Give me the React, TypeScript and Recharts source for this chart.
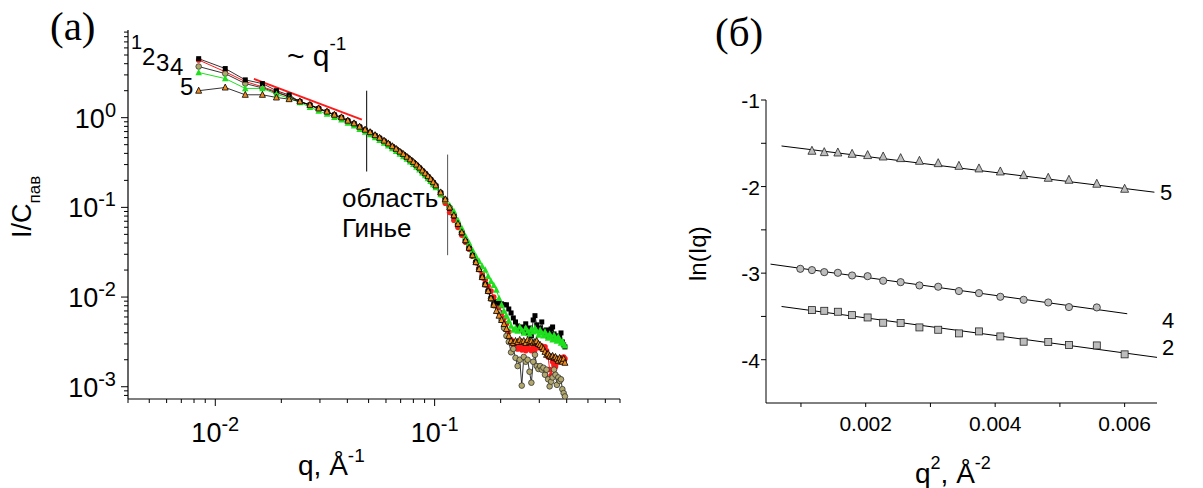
import React from "react";
import { LineChart, Line, XAxis, YAxis, ReferenceLine } from "recharts";

const SANS = "'Liberation Sans', Arial, Helvetica, sans-serif";
const SERIF = "'Liberation Serif', 'Times New Roman', serif";

// ---------- panel (a): I/C vs q (log-log) ----------
const qValues = [
  0.0084, 0.0111, 0.0137, 0.0164, 0.019, 0.0217, 0.0243, 0.027, 0.0296, 0.0323,
  0.0349, 0.0376, 0.0402, 0.0429, 0.0455, 0.0482, 0.0508, 0.0535, 0.0561, 0.0588,
  0.0614, 0.0641, 0.0667, 0.0694, 0.072, 0.0747, 0.0773, 0.08, 0.0826, 0.0853,
  0.0879, 0.0906, 0.0932, 0.0959, 0.0985,
  0.1012, 0.1065, 0.1118, 0.1171, 0.1224, 0.1277, 0.133, 0.1383, 0.1436, 0.1489,
  0.1542, 0.1595, 0.1648, 0.1701, 0.1754, 0.1807, 0.186, 0.1913, 0.1966, 0.2019,
  0.2072, 0.2125, 0.2178, 0.2231, 0.2284, 0.2337, 0.239, 0.2443, 0.2496, 0.2549,
  0.2602, 0.2655, 0.2708, 0.2761, 0.2814, 0.2867, 0.292, 0.2973, 0.3026, 0.3079,
  0.3132, 0.3185, 0.3238, 0.3291, 0.3344, 0.3397, 0.345, 0.3503, 0.3556, 0.3609,
  0.3662, 0.3715, 0.3768, 0.3821, 0.3874, 0.3927,
];

// black squares
const curve1 = [
  4.55, 3.53, 2.64, 2.4, 2.0, 1.79,
  1.51, 1.38, 1.26, 1.16, 1.07, 1.0, 0.92, 0.855, 0.785, 0.725,
  0.68, 0.628, 0.588, 0.546, 0.508, 0.473, 0.442, 0.411, 0.386, 0.36,
  0.337, 0.315, 0.294, 0.273, 0.253, 0.236, 0.219, 0.203, 0.188,
  0.172, 0.144, 0.12, 0.098, 0.08, 0.0645, 0.052, 0.0425, 0.0352, 0.029,
  0.0243, 0.0203, 0.0166, 0.0138, 0.0116, 0.0097, 0.0083, 0.0088, 0.0086, 0.0084,
  0.0082, 0.0082, 0.00736, 0.00665, 0.00585, 0.00528, 0.00476, 0.0043, 0.00464, 0.00409,
  0.00503, 0.00398, 0.00452, 0.00369, 0.00555, 0.0062, 0.0049, 0.0043, 0.00452, 0.00528,
  0.00419, 0.00378, 0.0043, 0.0036, 0.00398, 0.00441, 0.00464, 0.00388, 0.0035, 0.00369,
  0.00333, 0.0036, 0.00398, 0.00316, 0.00293, 0.00278,
];

// red circles
const curve2 = [
  4.4, 3.25, 2.53, 2.21, 1.95, 1.72,
  1.52, 1.39, 1.27, 1.17, 1.08, 1.0, 0.925, 0.86, 0.79, 0.73,
  0.685, 0.634, 0.592, 0.55, 0.512, 0.477, 0.446, 0.415, 0.389, 0.364,
  0.34, 0.318, 0.297, 0.276, 0.256, 0.238, 0.221, 0.205, 0.19,
  0.171, 0.139, 0.111, 0.088, 0.0719, 0.0599, 0.049, 0.0408, 0.0341, 0.0285,
  0.0245, 0.0211, 0.0181, 0.0155, 0.0133, 0.0117, 0.01, 0.0088, 0.0078, 0.00665,
  0.00585, 0.00503, 0.00409, 0.00333, 0.00293, 0.00278, 0.00264, 0.00284, 0.00258, 0.00271,
  0.00252, 0.00278, 0.00264, 0.00252, 0.00271, 0.00258, 0.00278, 0.00286, 0.00271, 0.00284,
  0.00264, 0.00278, 0.00252, 0.00215, 0.00155, 0.00133, 0.0019, 0.00175, 0.00167, 0.00185,
  0.002, 0.0019, 0.0021, 0.002, 0.00215, 0.00205,
];

// green triangles
const curve3 = [
  3.19, 2.73, 2.12, 2.12, 1.83, 1.65, 1.48,
  1.31, 1.19, 1.1, 1.01, 0.95, 0.87, 0.81, 0.745, 0.69, 0.648,
  0.6, 0.561, 0.522, 0.486, 0.452, 0.423, 0.394, 0.369, 0.345, 0.322,
  0.302, 0.282, 0.262, 0.243, 0.226, 0.21, 0.195, 0.18,
  0.167, 0.139, 0.12, 0.105, 0.0905, 0.0719, 0.0586, 0.0476, 0.04, 0.0333,
  0.0285, 0.0251, 0.0221, 0.02, 0.0171, 0.015, 0.0135, 0.012, 0.0097, 0.0082,
  0.007, 0.0062, 0.00543, 0.00476, 0.0043, 0.00452, 0.00419, 0.00464, 0.0043, 0.00398,
  0.00452, 0.00419, 0.00388, 0.00441, 0.00409, 0.00452, 0.00419, 0.00378, 0.0043, 0.00398,
  0.00369, 0.00409, 0.00378, 0.0035, 0.00388, 0.0036, 0.00333, 0.00378, 0.0035, 0.00324,
  0.0036, 0.00333, 0.00308, 0.00324, 0.003, 0.00286,
];

// olive circles
const curve4 = [
  3.72, 3.1, 2.4, 2.15, 1.9, 1.72,
  1.5, 1.38, 1.26, 1.16, 1.07, 1.0, 0.92, 0.858, 0.788, 0.73,
  0.683, 0.632, 0.59, 0.548, 0.51, 0.475, 0.444, 0.413, 0.388, 0.362,
  0.339, 0.317, 0.296, 0.275, 0.255, 0.237, 0.22, 0.204, 0.189,
  0.175, 0.146, 0.122, 0.099, 0.081, 0.065, 0.0525, 0.0428, 0.0353, 0.0292,
  0.0244, 0.0204, 0.0166, 0.0138, 0.0116, 0.0096, 0.0081, 0.0086, 0.0068, 0.00555,
  0.00452, 0.00369, 0.00316, 0.00242, 0.00264, 0.0021, 0.0017, 0.002, 0.00103, 0.00215,
  0.0019, 0.002, 0.00147, 0.00111, 0.0019, 0.00227, 0.0017, 0.00158, 0.0017, 0.00155,
  0.00163, 0.00136, 0.00155, 0.00121, 0.00101, 0.00114, 0.00127, 0.00155, 0.00136, 0.00105,
  0.00127, 0.00116, 0.00121, 0.00094, 0.00085, 0.00078,
];

// orange triangles
const curve5 = [
  2.0, 2.17, 1.8, 1.8, 1.68, 1.61, 1.52, 1.39, 1.27, 1.17,
  1.08, 1.01, 0.927, 0.865, 0.794, 0.735, 0.69,
  0.639, 0.597, 0.555, 0.517, 0.481, 0.45, 0.419, 0.393, 0.367,
  0.343, 0.321, 0.3, 0.278, 0.258, 0.24, 0.223, 0.207, 0.191,
  0.176, 0.147, 0.123, 0.1, 0.0815, 0.0656, 0.0528, 0.043, 0.0355, 0.0293,
  0.0245, 0.0205, 0.0167, 0.0139, 0.0117, 0.0097, 0.0082, 0.007, 0.0062, 0.00555,
  0.005, 0.00441, 0.00369, 0.00324, 0.00308, 0.00324, 0.00316, 0.00333, 0.00316, 0.00324,
  0.00308, 0.00333, 0.00316, 0.00324, 0.00308, 0.00316, 0.00324, 0.003, 0.00293, 0.00278,
  0.00264, 0.00245, 0.00227, 0.00233, 0.00221, 0.00215, 0.00221, 0.0021, 0.00215, 0.00205,
  0.00195, 0.0021, 0.002, 0.0019, 0.00205, 0.00185,
];

const xTicksA = [
  0.004, 0.005, 0.006, 0.007, 0.008, 0.009, 0.01,
  0.02, 0.03, 0.04, 0.05, 0.06, 0.07, 0.08, 0.09, 0.1,
  0.2, 0.3, 0.4, 0.5, 0.6, 0.7,
];
const yTicksA = [
  0.0008, 0.0009, 0.001,
  0.002, 0.003, 0.004, 0.005, 0.006, 0.007, 0.008, 0.009, 0.01,
  0.02, 0.03, 0.04, 0.05, 0.06, 0.07, 0.08, 0.09, 0.1,
  0.2, 0.3, 0.4, 0.5, 0.6, 0.7, 0.8, 0.9, 1,
  2, 3, 4, 5, 6, 7, 8, 9,
];

// vertical marks of the Guinier region and the ~q^-1 guide
const guideQ = [0.049, 0.1146];
const guideTop = [2.0, 0.388];
const guideBottom = [0.251, 0.0293];
const slopeQ = [0.015, 0.0466];
const slopeI = [2.71, 0.95];

// ---------- panel (б): ln(Iq) vs q^2 ----------
const q2Tri = [0.00117, 0.00136, 0.00157, 0.00179, 0.00203, 0.00227, 0.00254, 0.00283, 0.00312, 0.00344, 0.00375, 0.00408, 0.00444, 0.00482, 0.00514, 0.00557, 0.006];
const lnTri = [-1.588, -1.604, -1.608, -1.623, -1.638, -1.654, -1.673, -1.704, -1.731, -1.762, -1.792, -1.827, -1.869, -1.9, -1.923, -1.969, -2.027];
const q2Circ = [0.00099, 0.00117, 0.00136, 0.00157, 0.00179, 0.00203, 0.00227, 0.00254, 0.00283, 0.00312, 0.00344, 0.00375, 0.00408, 0.00444, 0.00482, 0.00514, 0.00557];
const lnCirc = [-2.95, -2.965, -2.988, -2.996, -3.027, -3.035, -3.088, -3.104, -3.142, -3.157, -3.207, -3.231, -3.273, -3.308, -3.339, -3.392, -3.396];
const q2Sq = [0.00117, 0.00136, 0.00157, 0.00179, 0.00203, 0.00227, 0.00254, 0.00283, 0.00312, 0.00344, 0.00375, 0.00408, 0.00444, 0.00482, 0.00514, 0.00557, 0.006];
const lnSq = [-3.427, -3.435, -3.446, -3.485, -3.512, -3.573, -3.577, -3.627, -3.654, -3.696, -3.673, -3.731, -3.792, -3.796, -3.831, -3.835, -3.938];

const fitX5 = [0.0007, 0.00646];
const fitY5 = [-1.531, -2.065];
const fitX4 = [0.00053, 0.00604];
const fitY4 = [-2.896, -3.469];
const fitX2 = [0.0007, 0.0065];
const fitY2 = [-3.385, -3.973];

const xTicksB = [0.001, 0.002, 0.003, 0.004, 0.005, 0.006];
const xLabelsB = [0.002, 0.004, 0.006];
const yTicksB = [-4, -3.5, -3, -2.5, -2, -1.5, -1];

// ---------- data tables ----------
const dataA = qValues.map((q, i) => ({
  q,
  c1: curve1[i],
  c2: curve2[i],
  c3: curve3[i],
  c4: curve4[i],
  c5: curve5[i],
}));
const pairs = (xs: number[], ys: number[]) => xs.map((x, i) => ({ x, y: ys[i] }));
const triData = pairs(q2Tri, lnTri);
const circData = pairs(q2Circ, lnCirc);
const sqData = pairs(q2Sq, lnSq);

// ---------- markers ----------
const squareDot = (fill: string, size: number, stroke = "none") => (p: any) => {
  if (p.cx == null || p.cy == null) return <g key={`s${p.index}`} />;
  return (
    <rect key={`s${p.index}`} x={p.cx - size / 2} y={p.cy - size / 2} width={size} height={size}
      fill={fill} stroke={stroke} strokeWidth={0.8} />
  );
};
const circleDot = (fill: string, r: number, stroke = "none") => (p: any) => {
  if (p.cx == null || p.cy == null) return <g key={`c${p.index}`} />;
  return <circle key={`c${p.index}`} cx={p.cx} cy={p.cy} r={r} fill={fill} stroke={stroke} strokeWidth={0.8} />;
};
const triangleDot = (fill: string, s: number, stroke = "none") => (p: any) => {
  if (p.cx == null || p.cy == null) return <g key={`t${p.index}`} />;
  const { cx, cy } = p;
  const pts = `${cx},${cy - s * 0.58} ${cx - s / 2},${cy + s * 0.42} ${cx + s / 2},${cy + s * 0.42}`;
  return <polygon key={`t${p.index}`} points={pts} fill={fill} stroke={stroke} strokeWidth={0.8} />;
};

// ---------- ticks ----------
const isDecade = (v: number) => Math.abs(Math.log10(v) - Math.round(Math.log10(v))) < 1e-9;

function LogTickX(props: any) {
  const { x, y, payload } = props;
  const v = payload.value;
  const major = isDecade(v);
  return (
    <g>
      <line x1={x} x2={x} y1={y} y2={y + (major ? 7 : 4)} stroke="#000" strokeWidth={1} />
      {major && (
        <text x={x} y={y + 43} textAnchor="middle" fontSize={27} fontFamily={SANS} fill="#000">
          10<tspan dy={-11} fontSize={20}>{`${Math.round(Math.log10(v))}`}</tspan>
        </text>
      )}
    </g>
  );
}

function LogTickY(props: any) {
  const { x, y, payload } = props;
  const v = payload.value;
  const major = isDecade(v);
  return (
    <g>
      <line x1={x - (major ? 7 : 4)} x2={x} y1={y} y2={y} stroke="#000" strokeWidth={1} />
      {major && (
        <text x={x - 12} y={y + 10} textAnchor="end" fontSize={27} fontFamily={SANS} fill="#000">
          10<tspan dy={-11} fontSize={20}>{`${Math.round(Math.log10(v))}`}</tspan>
        </text>
      )}
    </g>
  );
}

function LinTickX(props: any) {
  const { x, y, payload } = props;
  const v = payload.value;
  const labelled = xLabelsB.some((l) => Math.abs(l - v) < 1e-9);
  return (
    <g>
      <line x1={x} x2={x} y1={y} y2={y + 4} stroke="#000" strokeWidth={1} />
      {labelled && (
        <text x={x} y={y + 28} textAnchor="middle" fontSize={21} fontFamily={SANS} fill="#000">
          {v.toFixed(3)}
        </text>
      )}
    </g>
  );
}

function LinTickY(props: any) {
  const { x, y, payload } = props;
  const v = payload.value;
  const labelled = Number.isInteger(v);
  return (
    <g>
      <line x1={x - 5} x2={x} y1={y} y2={y} stroke="#000" strokeWidth={1} />
      {labelled && (
        <text x={x - 6} y={y + 8} textAnchor="end" fontSize={21} fontFamily={SANS} fill="#000">
          {`${v}`}
        </text>
      )}
    </g>
  );
}

function PanelA() {
  return (
    <LineChart width={640} height={488} data={dataA} margin={{ top: 30, right: 20, bottom: 0, left: 0 }}>
      <XAxis dataKey="q" type="number" scale="log" domain={[0.004, 0.7]} allowDataOverflow
        ticks={xTicksA} interval={0} tick={<LogTickX />} tickLine={false} tickSize={0} tickMargin={0}
        height={89} axisLine={{ stroke: "#000", strokeWidth: 1.2 }} />
      <YAxis type="number" scale="log" domain={[0.00073, 9.5]} allowDataOverflow
        ticks={yTicksA} interval={0} tick={<LogTickY />} tickLine={false} tickSize={0} tickMargin={0}
        width={128} axisLine={{ stroke: "#000", strokeWidth: 1.2 }} />
      <Line dataKey="c2" stroke="#ff1a1a" strokeWidth={1} dot={circleDot("#ff1a1a", 2.8)} activeDot={false} isAnimationActive={false} />
      <Line dataKey="c4" stroke="#000" strokeWidth={0.8} dot={circleDot("#b3a86c", 2.8, "#333")} activeDot={false} isAnimationActive={false} />
      <Line dataKey="c1" stroke="#000" strokeWidth={0.8} dot={squareDot("#000", 5)} activeDot={false} isAnimationActive={false} />
      <Line dataKey="c3" stroke="#1ee01e" strokeWidth={1} dot={triangleDot("#1ee01e", 6.5)} activeDot={false} isAnimationActive={false} />
      <Line dataKey="c5" stroke="#000" strokeWidth={0.8} dot={triangleDot("#f08a1e", 6, "#000")} activeDot={false} isAnimationActive={false} />
      <ReferenceLine segment={[{ x: guideQ[0], y: guideTop[0] }, { x: guideQ[0], y: guideBottom[0] }]} stroke="#000" strokeWidth={1} />
      <ReferenceLine segment={[{ x: guideQ[1], y: guideTop[1] }, { x: guideQ[1], y: guideBottom[1] }]} stroke="#555" strokeWidth={1} />
      <ReferenceLine segment={[{ x: slopeQ[0], y: slopeI[0] }, { x: slopeQ[1], y: slopeI[1] }]} stroke="#ff1a1a" strokeWidth={2} />
    </LineChart>
  );
}

function PanelB() {
  return (
    <LineChart width={563} height={488} margin={{ top: 100, right: 46, bottom: 0, left: 0 }}>
      <XAxis dataKey="x" type="number" domain={[0.00046, 0.0065]} allowDataOverflow
        ticks={xTicksB} interval={0} tick={<LinTickX />} tickLine={false} tickSize={0} tickMargin={0}
        height={85} axisLine={{ stroke: "#000", strokeWidth: 1 }} />
      <YAxis type="number" domain={[-4.5, -1]} allowDataOverflow
        ticks={yTicksB} interval={0} tick={<LinTickY />} tickLine={false} tickSize={0} tickMargin={0}
        width={126} axisLine={{ stroke: "#000", strokeWidth: 1 }} />
      <Line data={pairs(fitX5, fitY5)} dataKey="y" stroke="#000" strokeWidth={1} dot={false} activeDot={false} isAnimationActive={false} />
      <Line data={pairs(fitX4, fitY4)} dataKey="y" stroke="#000" strokeWidth={1} dot={false} activeDot={false} isAnimationActive={false} />
      <Line data={pairs(fitX2, fitY2)} dataKey="y" stroke="#000" strokeWidth={1} dot={false} activeDot={false} isAnimationActive={false} />
      <Line data={triData} dataKey="y" stroke="none" dot={triangleDot("#bdbdbd", 8, "#222")} activeDot={false} isAnimationActive={false} />
      <Line data={circData} dataKey="y" stroke="none" dot={circleDot("#bdbdbd", 3.6, "#222")} activeDot={false} isAnimationActive={false} />
      <Line data={sqData} dataKey="y" stroke="none" dot={squareDot("#bdbdbd", 7, "#222")} activeDot={false} isAnimationActive={false} />
    </LineChart>
  );
}

function Labels() {
  const t = { fontFamily: SANS, fill: "#000" } as const;
  return (
    <svg width={1203} height={488} style={{ position: "absolute", left: 0, top: 0, pointerEvents: "none" }}>
      <text x={50} y={40} fontFamily={SERIF} fontSize={41}>(a)</text>
      <text x={715} y={46} fontFamily={SERIF} fontSize={41}>(б)</text>

      <text {...t} fontSize={27} transform="translate(31,238) rotate(-90)">
        I/C<tspan fontSize={17} dy={9}>пав</tspan>
      </text>
      <text {...t} fontSize={28} x={298} y={475}>
        q, Å<tspan fontSize={19} dy={-13}>-1</tspan>
      </text>

      <text {...t} fontSize={20} x={131} y={49}>1</text>
      <text {...t} fontSize={24} x={142} y={65}>2</text>
      <text {...t} fontSize={24} x={156} y={71}>3</text>
      <text {...t} fontSize={24} x={170} y={75}>4</text>
      <text {...t} fontSize={24} x={180} y={95}>5</text>

      <text {...t} fontSize={30} x={287} y={66}>
        ~ q<tspan fontSize={19} dy={-16}>-1</tspan>
      </text>
      <text {...t} fontSize={26} x={342} y={207}>область</text>
      <text {...t} fontSize={26} x={342} y={237}>Гинье</text>

      <text {...t} fontSize={24} transform="translate(706,281) rotate(-90)">ln(Iq)</text>
      <text {...t} fontSize={28} x={915} y={483}>
        q<tspan fontSize={18} dy={-14}>2</tspan><tspan dy={14}>, Å</tspan><tspan fontSize={18} dy={-14}>-2</tspan>
      </text>

      <text {...t} fontSize={22} x={1160} y={200}>5</text>
      <text {...t} fontSize={22} x={1162} y={328}>4</text>
      <text {...t} fontSize={22} x={1162} y={355}>2</text>
    </svg>
  );
}

export default function App() {
  return (
    <div style={{ position: "absolute", left: 0, top: 0, width: 1203, height: 488, background: "#fff", overflow: "hidden" }}>
      <div style={{ position: "absolute", left: 0, top: 0 }}>
        <PanelA />
      </div>
      <div style={{ position: "absolute", left: 640, top: 0 }}>
        <PanelB />
      </div>
      <Labels />
    </div>
  );
}
